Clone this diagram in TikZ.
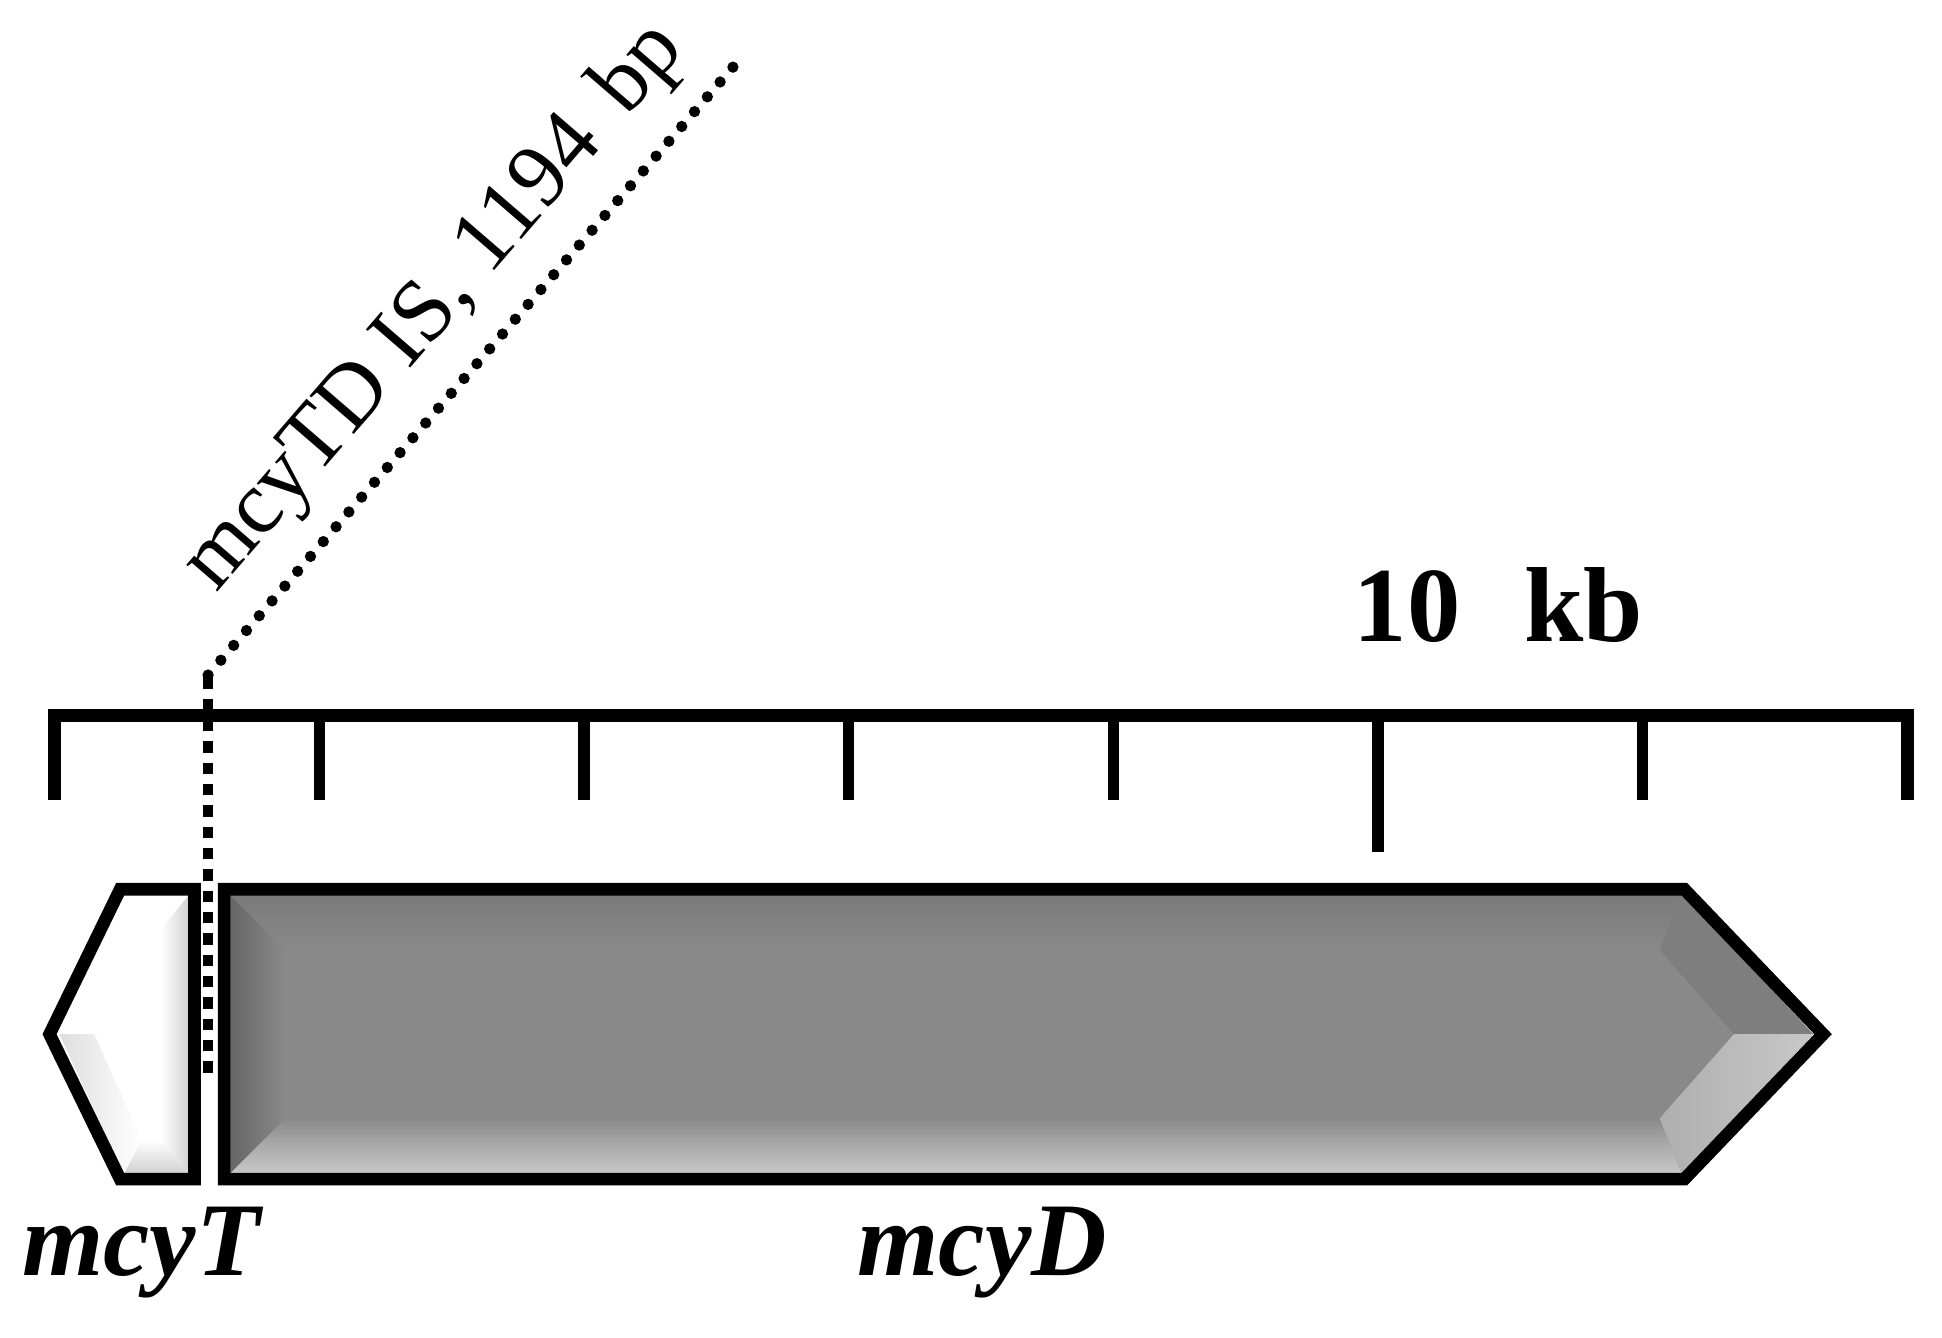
\documentclass[tikz,border=0pt]{standalone}
\usepackage{fontspec}
\setmainfont{Liberation Serif}
\definecolor{geneGray}{HTML}{898989}
\definecolor{geneDark}{HTML}{666666}
\definecolor{geneTop}{HTML}{7A7A7A}
\definecolor{geneLight}{HTML}{C8C8C8}
\definecolor{tBevel}{HTML}{D0D0D0}

\begin{document}
\begin{tikzpicture}[x=0.1mm,y=-0.1mm,line join=miter,every node/.style={inner sep=0pt},
  bar/.style={line width=3pt},
  tickmark/.style={line width=2.6pt},
  genebox/.style={line width=2.9pt,line join=miter},
  leadsq/.style={line width=2.4pt,dash pattern=on 2.6pt off 2.3pt},
  leaddot/.style={line width=2.6pt,line cap=round,dash pattern=on 0pt off 4.5pt}]
  \useasboundingbox (0,0) rectangle (1568,1080);
  \def\d{213.7}
  % scale bar
  \draw[bar] (44,646) -- (44,578) -- (1540,578) -- (1540,646);
  \foreach \k/\len in {1/646,2/646,3/646,4/646,5/688,6/646}
    \draw[tickmark] ({44+\k*\d},578) -- ({44+\k*\d},\len);
  \node[anchor=base,font=\fontsize{24.5}{29}\selectfont\bfseries] (kb) at (1210,518) {10\hspace{0.6em}kb};

  % mcyD
  \fill[geneGray] (185,722) -- (1358,722) -- (1464,835) -- (1358,948) -- (185,948) -- cycle;
  \shade[top color=geneTop,bottom color=geneGray] (185,722) -- (1358,722) -- (1340,767) -- (230,767) -- cycle;
  \shade[top color=geneGray,bottom color=geneLight,middle color=geneGray!45!geneLight] (185,948) -- (1358,948) -- (1340,903) -- (230,903) -- cycle;
  \shade[left color=geneDark,right color=geneGray] (185,722) -- (230,767) -- (230,903) -- (185,948) -- cycle;
  \fill[geneTop!70!geneGray] (1358,722) -- (1464,835) -- (1400,835) -- (1340,767) -- cycle;
  \shade[left color=geneGray!40!geneLight,right color=geneLight] (1464,835) -- (1358,948) -- (1340,903) -- (1400,835) -- cycle;
  \draw[genebox] (181,718) -- (1360,718) -- (1472,835) -- (1360,952) -- (181,952) -- cycle;

  % mcyT
  \fill[white] (48,835) -- (100,722) -- (153,722) -- (153,948) -- (100,948) -- cycle;
  \shade[left color=white,right color=tBevel] (153,722) -- (153,948) -- (130,920) -- (130,750) -- cycle;
  \shade[top color=white,bottom color=tBevel] (100,948) -- (153,948) -- (130,920) -- (114,920) -- cycle;
  \shade[left color=tBevel!70,right color=white] (48,835) -- (100,948) -- (114,920) -- (76,835) -- cycle;
  \draw[genebox] (40,835) -- (97,718) -- (157,718) -- (157,952) -- (97,952) -- cycle;

  % IS leader
  \coordinate (isfoot) at (168,866);
  \coordinate (isbend) at (168,545);
  \coordinate (istop) at (598,47);
  \draw[leadsq] (isfoot) -- (isbend);
  \draw[leaddot] (isbend) -- (istop);
  \node[anchor=base west,rotate=49.2,font=\fontsize{20.5}{25}\selectfont] (isnote) at (174,480) {mcyTD IS, 1194\hspace{0.4em}bp};

  % labels
  \node[anchor=base,font=\fontsize{24}{28}\selectfont\bfseries\itshape] (mcyTlab) at (114,1030) {mcyT};
  \node[anchor=base,font=\fontsize{24}{28}\selectfont\bfseries\itshape] (mcyDlab) at (793,1030) {mcyD};
\end{tikzpicture}
\end{document}
